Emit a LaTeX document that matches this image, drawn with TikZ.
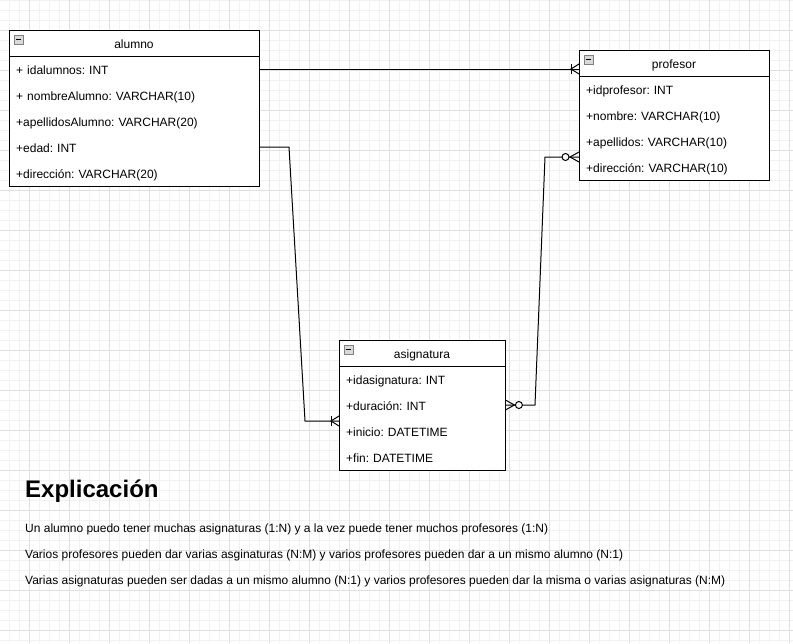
\documentclass[tikz,border=0pt]{standalone}
\usepackage{fontspec}
\setmainfont{Liberation Sans}
\frenchspacing
\begin{document}
\begin{tikzpicture}[x=1pt,y=-1pt,
  gminor/.style={draw=black!5, line width=1pt},
  gmajor/.style={draw=black!12, line width=1pt},
  tbl/.style={draw=black, line width=1pt, fill=white, rectangle, inner sep=0pt, anchor=north west},
  hdr/.style={rectangle, inner sep=0pt, minimum height=26pt, text height=10.6pt, text depth=0pt, font=\fontsize{12}{14}\selectfont},
  rowtxt/.style={rectangle, anchor=west, inner xsep=7pt, inner ysep=0pt, minimum height=26pt, text height=10.6pt, text depth=0pt, align=left, font=\fontsize{12}{14}\selectfont},
  conn/.style={line width=1pt, draw=black},
  mk/.style={line width=1pt, draw=black},
  ptxt/.style={anchor=base west, inner sep=0pt, font=\fontsize{12}{14}\selectfont},
  collapse/.pic={
    \draw[draw=black!50, fill=black!15, line width=0.8pt] (0,0) rectangle (9,9);
    \draw[line width=1.6pt] (2,4.5) -- (7,4.5);
  }
]
\useasboundingbox (0,0) rectangle (793,643);
\fill[white] (0,0) rectangle (793,643);
% grid
\foreach \x in {9,19,...,789} \draw[gminor] (\x,0) -- (\x,643);
\foreach \y in {0,10,...,640} \draw[gminor] (0,\y) -- (793,\y);
\foreach \x in {29,69,...,789} \draw[gmajor] (\x,0) -- (\x,643);
\foreach \y in {30,70,...,630} \draw[gmajor] (0,\y) -- (793,\y);

% ---------- alumno ----------
\node[tbl, minimum width=250pt, minimum height=156pt] (alumno) at (9,30) {};
\draw[line width=1pt] (9,56) -- (259,56);
\pic at (14,35) {collapse};
\node[hdr] (alumno-h) at (134,43) {alumno};
\node[rowtxt, text width=236pt] (alumno-r1) at (9,69)  {+ idalumnos: INT};
\node[rowtxt, text width=236pt] (alumno-r2) at (9,95)  {+ nombreAlumno: VARCHAR(10)};
\node[rowtxt, text width=236pt] (alumno-r3) at (9,121) {+apellidosAlumno: VARCHAR(20)};
\node[rowtxt, text width=236pt] (alumno-r4) at (9,147) {+edad: INT};
\node[rowtxt, text width=236pt] (alumno-r5) at (9,173) {+dirección: VARCHAR(20)};

% ---------- profesor ----------
\node[tbl, minimum width=190pt, minimum height=130pt] (profesor) at (579,50) {};
\draw[line width=1pt] (579,76) -- (769,76);
\pic at (584,55) {collapse};
\node[hdr] (profesor-h) at (674,63) {profesor};
\node[rowtxt, text width=176pt] (profesor-r1) at (579,89)  {+idprofesor: INT};
\node[rowtxt, text width=176pt] (profesor-r2) at (579,115) {+nombre: VARCHAR(10)};
\node[rowtxt, text width=176pt] (profesor-r3) at (579,141) {+apellidos: VARCHAR(10)};
\node[rowtxt, text width=176pt] (profesor-r4) at (579,167) {+dirección: VARCHAR(10)};

% ---------- asignatura ----------
\node[tbl, minimum width=166pt, minimum height=130pt] (asignatura) at (339,340) {};
\draw[line width=1pt] (339,366) -- (505,366);
\pic at (344,345) {collapse};
\node[hdr] (asignatura-h) at (422,353) {asignatura};
\node[rowtxt, text width=152pt] (asignatura-r1) at (339,379) {+idasignatura: INT};
\node[rowtxt, text width=152pt] (asignatura-r2) at (339,405) {+duración: INT};
\node[rowtxt, text width=152pt] (asignatura-r3) at (339,431) {+inicio: DATETIME};
\node[rowtxt, text width=152pt] (asignatura-r4) at (339,457) {+fin: DATETIME};

% ---------- connectors ----------
% alumno -> profesor (one or many)
\coordinate (m1) at (alumno-r1.east -| profesor.west);
\draw[conn] (alumno-r1.east) -- (m1);
\draw[mk] ([xshift=-8pt,yshift=-5pt]m1) -- ([xshift=-8pt,yshift=5pt]m1);
\draw[mk] ([yshift=-5pt]m1) -- ([xshift=-8pt]m1) -- ([yshift=5pt]m1);

% alumno -> asignatura (one or many)
\coordinate (b1) at (289,147);
\coordinate (b2) at (305,421);
\coordinate (m2) at (b2 -| asignatura.west);
\draw[conn] (alumno-r4.east) -- (b1) -- (b2) -- (m2);
\draw[mk] ([xshift=-8pt,yshift=-5pt]m2) -- ([xshift=-8pt,yshift=5pt]m2);
\draw[mk] ([yshift=-5pt]m2) -- ([xshift=-8pt]m2) -- ([yshift=5pt]m2);

% asignatura <-> profesor (zero or many both ends)
\coordinate (c1) at (535,405);
\coordinate (c2) at (545,157);
\coordinate (m3) at (c2 -| profesor.west);
\draw[conn] (asignatura-r2.east) -- (c1) -- (c2) -- (m3);
\draw[mk] ([yshift=-5pt]asignatura-r2.east) -- ([xshift=9pt]asignatura-r2.east) -- ([yshift=5pt]asignatura-r2.east);
\draw[mk, fill=white] ([xshift=13.5pt]asignatura-r2.east) circle[radius=3.5pt];
\draw[mk] ([yshift=-5pt]m3) -- ([xshift=-9pt]m3) -- ([yshift=5pt]m3);
\draw[mk, fill=white] ([xshift=-13.5pt]m3) circle[radius=3.5pt];

% ---------- explanation ----------
\node[anchor=base west, inner sep=0pt, font=\bfseries\fontsize{24}{28}\selectfont] (expl) at (25,497.5) {Explicación};
\node[ptxt] (p1) at (25,532.5) {Un alumno puedo tener muchas asignaturas (1:N) y a la vez puede tener muchos profesores (1:N)};
\node[ptxt] (p2) at (25,558.5) {Varios profesores pueden dar varias asginaturas (N:M) y varios profesores pueden dar a un mismo alumno (N:1)};
\node[ptxt] (p3) at (25,584.5) {Varias asignaturas pueden ser dadas a un mismo alumno (N:1) y varios profesores pueden dar la misma o varias asignaturas (N:M)};
\end{tikzpicture}
\end{document}
